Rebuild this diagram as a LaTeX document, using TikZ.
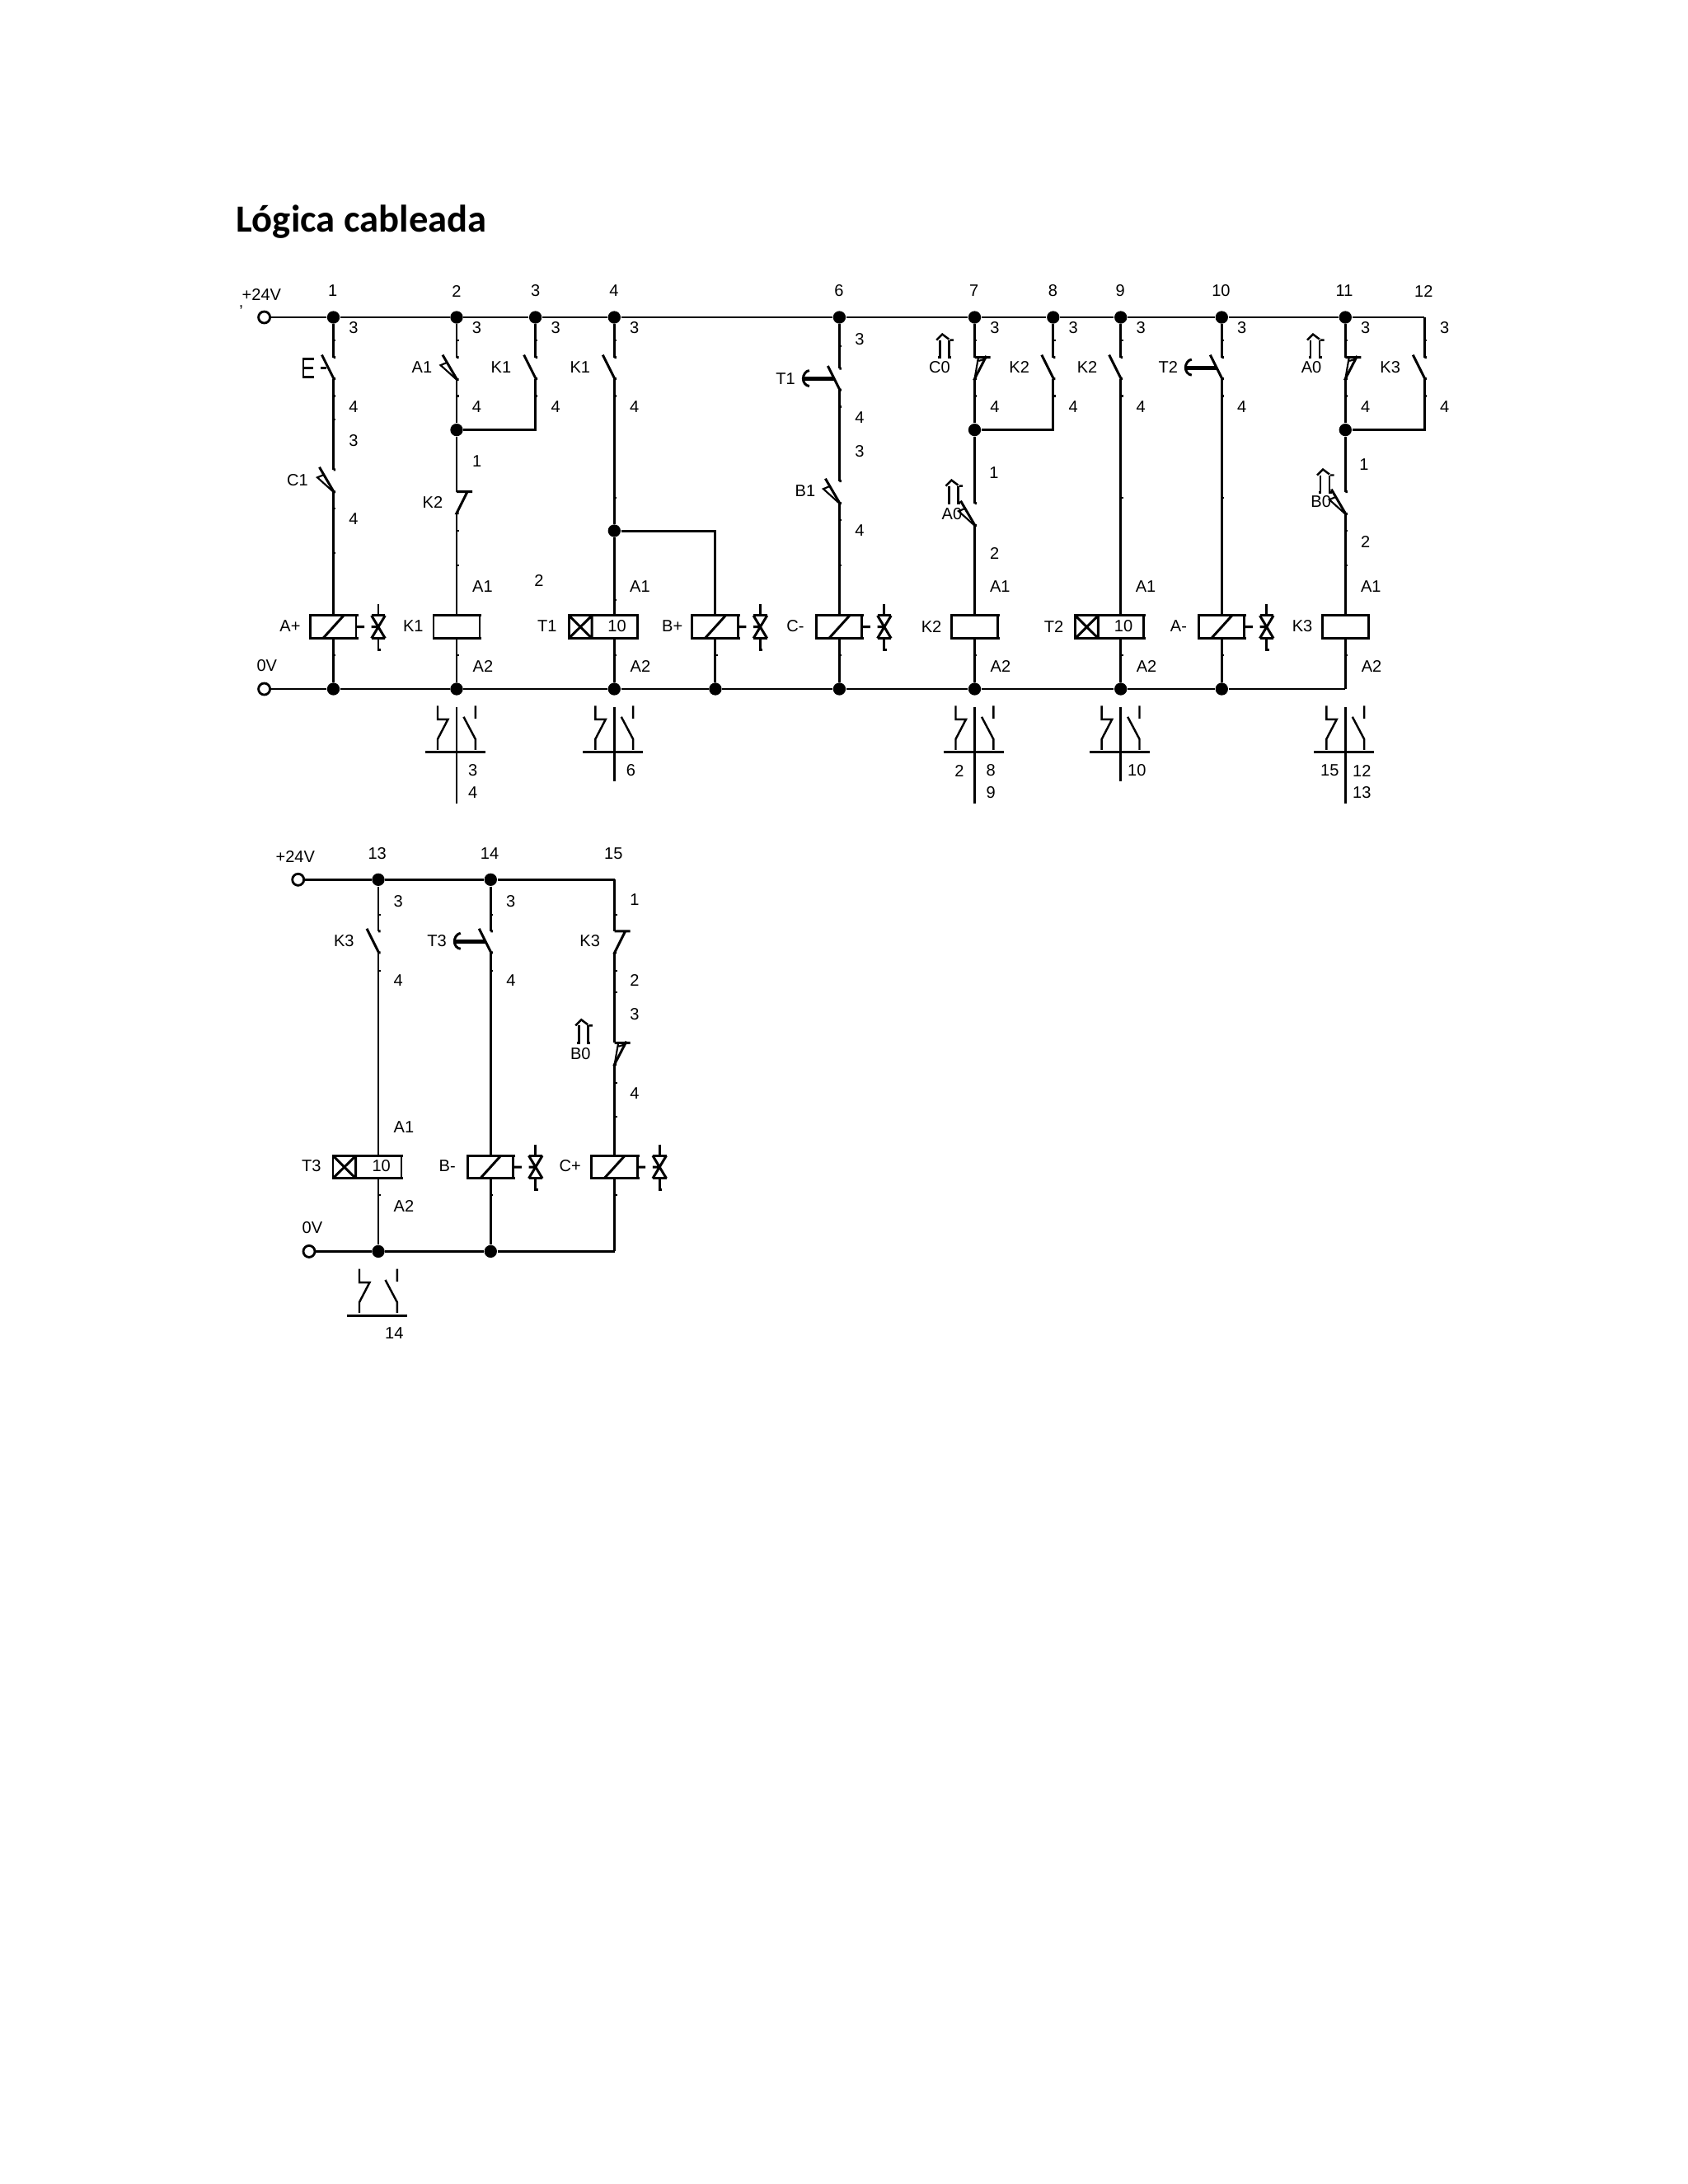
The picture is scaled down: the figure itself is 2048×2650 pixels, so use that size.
\documentclass[tikz,border=0pt]{standalone}
\usepackage{fontspec}
\setmainfont{Liberation Sans}
\newfontfamily\titlefont{Carlito}
\tikzset{
    wire/.style={line width=0.85pt},
    rail/.style={line width=0.75pt},
    dot/.style={circle,fill=black,inner sep=0pt,minimum size=0.153cm},
    term/.style={circle,draw,fill=white,line width=0.8pt,inner sep=0pt,minimum size=0.14cm},
    lbl/.style={inner sep=0pt,font=\fontsize{5.7}{6}\selectfont},
    pics/nocontact/.style={code={
        \coordinate (-a) at (0,0);
        \coordinate (-b) at (0,26);
        \draw[wire] (0,0) -- (2.5,0) (-14,-3) -- (0.5,26) -- (2.5,26);
    }},
    pics/camno/.style={code={
        \coordinate (-a) at (0,0);
        \coordinate (-b) at (0,27);
        \draw[wire] (0,0) -- (2.5,0) (-17,-3) -- (0.5,27) -- (2.5,27);
        \draw[line width=0.6pt] (-11,6) -- (-19.5,9.5) -- (0,27);
    }},
    pics/timerno/.style={code={
        \coordinate (-a) at (0,0);
        \coordinate (-b) at (0,26);
        \draw[wire] (0,0) -- (2.5,0) (-14,-3) -- (0.5,26) -- (2.5,26);
        \draw[line width=1.4pt] (-42.5,12.5) -- (-6,12.5);
        \draw[wire] (-36.5,2.5) .. controls (-41,3) and (-44,8) .. (-44,12.5) .. controls (-44,17) and (-41,21) .. (-36.5,21.5);
    }},
    pics/nccontact/.style={code={
        \coordinate (-a) at (0,0);
        \coordinate (-b) at (0,26);
        \draw[wire] (0,0) -- (19,0) (13,0) -- (0,26) -- (2.5,26);
    }},
    pics/camnc/.style={code={
        \coordinate (-a) at (0,0);
        \coordinate (-b) at (0,26);
        \draw[wire] (0,0) -- (19,0) (14.3,-1.7) -- (0,26) -- (2.5,26);
        \draw[line width=0.6pt] (4.3,1) -- (0,26) (5,4.3) -- (11.6,2.3);
    }},
    pics/camarrow/.style={code={
        \draw[line width=0.7pt] (-7.5,0) -- (-5.5,0) -- (-5.5,-21) (5.5,-21) -- (5.5,0) -- (8,0);
        \draw[line width=0.7pt] (-9.5,-21) -- (-2.5,-28) -- (5.5,-22) (6.5,-21) -- (11,-21);
    }},
    pics/solcoil/.style={code={
        \coordinate (-top) at (0,-13.8);
        \coordinate (-bot) at (0,13.8);
        \draw[wire] (30,-13.8) -- (-28,-13.8) -- (-28,13.8) -- (30,13.8) (27.5,-13.8) -- (27.5,13.8);
        \draw[wire] (-12.6,13.8) -- (12.4,-13.8) (27.5,0) -- (37.5,0);
        % valve
        \draw[wire] (54.5,-27.5) -- (54.5,-13.8) (46.2,-13.8) -- (62.8,-13.8) (46.2,13.8) -- (62.8,13.8);
        \draw[wire] (46.2,-13.8) -- (62.8,13.8) (62.8,-13.8) -- (46.2,13.8) (46.2,0) -- (54.5,0);
        \draw[wire] (54.5,13.8) -- (54.5,27.7) -- (57.5,27.7);
    }},
    pics/relaycoil/.style={code={
        \coordinate (-top) at (0,-13.8);
        \coordinate (-bot) at (0,13.8);
        \draw[wire] (30,-13.8) -- (-28,-13.8) -- (-28,13.8) -- (30,13.8) (28,-13.8) -- (28,13.8);
    }},
    pics/timercoil/.style={code={
        \coordinate (-top) at (0,-13.8);
        \coordinate (-bot) at (0,13.8);
        \draw[wire] (30,-13.8) -- (-55,-13.8) -- (-55,13.8) -- (30,13.8) (28,-13.8) -- (28,13.8);
        \draw[wire] (-27.3,-13.8) -- (-27.3,13.8) (-55,-13.8) -- (-27.3,13.8) (-27.3,-13.8) -- (-55,13.8);
    }},
    pics/auxblock/.style={code={
        \coordinate (-top) at (0,-55);
        \draw[wire] (-38,0) -- (35,0);
        \draw[line width=0.7pt] (-23,-56.4) -- (-23,-40) -- (-10.5,-40) -- (-23,-16) -- (-23,-3);
        \draw[line width=0.7pt] (8.5,-43) -- (22.8,-16) -- (22.8,-3) (22.8,-56.4) -- (22.8,-41);
    }},
}
\begin{document}
\begin{tikzpicture}[x=0.01cm,y=-0.01cm]
    \useasboundingbox (0,0) rectangle (2048,2650);
    \node[anchor=base west,inner sep=0pt,font=\titlefont\bfseries\fontsize{13.25}{15}\selectfont] (title) at (285.5,281.5) {Lógica cableada};

    % Upper rails
    \node[term] (pos) at (320.6,385) {};
    \node[term] (neg) at (320.6,836) {};
    \foreach \x/\n in {404.5/1,554/2,649.6/3,745.3/4,1018.4/6,1182.5/7,1277.8/8,1359.7/9,1482.3/10,1632.3/11}
        \node[dot] (top\n) at (\x,385) {};
    \foreach \x/\n in {404.5/1,554/2,745.3/4,867.9/5,1018.4/6,1182.5/7,1359.7/9,1482.3/10}
        \node[dot] (bot\n) at (\x,836) {};
    \coordinate (top12) at (1728.3,385);
    \coordinate (bot11) at (1632.3,836);
    \draw[rail] (pos) -- (top1) -- (top2) -- (top3) -- (top4) -- (top6) -- (top7) -- (top8) -- (top9) -- (top10) -- (top11) -- (top12);
    \draw[rail] (neg) -- (bot1) -- (bot2) -- (bot4) -- (bot5) -- (bot6) -- (bot7) -- (bot9) -- (bot10) -- (bot11);

    % Cylinder A advance
    \pic (e1) at (404.5,433.6) {nocontact};
    \pic (c1) at (404.5,569.8) {camno};
    \pic (ap) at (404.5,760.7) {solcoil};
    \draw[wire] (top1) -- (e1-a) (e1-b) -- (c1-a) (c1-b) -- (ap-top) (ap-bot) -- (bot1);
    \draw[wire] (380.7,435) -- (368,435) -- (368,457.3) -- (380.7,457.3) (368,446) -- (380,446) (389.3,446.7) -- (396,446.7);

    % K1
    \node[dot] (jn2) at (554,521.6) {};
    \pic (a1) at (554,433.6) {camno};
    \pic (k1s) at (649.6,433.6) {nocontact};
    \pic (k2n) at (554,596.7) {nccontact};
    \pic (k1c) at (554,760.7) {relaycoil};
    \draw[wire] (top2) -- (a1-a) (a1-b) -- (jn2) -- (k2n-a) (k2n-b) -- (k1c-top) (k1c-bot) -- (bot2);
    \draw[wire] (top3) -- (k1s-a) (k1s-b) |- (jn2);

    % T1 and B+
    \node[dot] (jn4) at (745.3,644) {};
    \pic (k1t) at (745.3,433.6) {nocontact};
    \pic (t1c) at (745.3,760.7) {timercoil};
    \pic (bp) at (867.9,760.7) {solcoil};
    \draw[wire] (top4) -- (k1t-a) (k1t-b) -- (jn4) -- (t1c-top) (t1c-bot) -- (bot4);
    \draw[wire] (jn4) -| (bp-top) (bp-bot) -- (bot5);

    % C-
    \pic (t1s) at (1018.4,447) {timerno};
    \pic (b1) at (1018.4,583.7) {camno};
    \pic (cm) at (1018.4,760.7) {solcoil};
    \draw[wire] (top6) -- (t1s-a) (t1s-b) -- (b1-a) (b1-b) -- (cm-top) (cm-bot) -- (bot6);

    % K2
    \node[dot] (jn7) at (1182.5,521.6) {};
    \pic (c0) at (1182.5,433.6) {camnc};
    \pic (c0a) at (1145.8,433.6) {camarrow};
    \pic (k2s) at (1277.8,433.6) {nocontact};
    \pic (a0) at (1182.5,610.7) {camno};
    \pic (a0a) at (1157,610.7) {camarrow};
    \pic (k2c) at (1182.5,760.7) {relaycoil};
    \draw[wire] (top7) -- (c0-a) (c0-b) -- (jn7) -- (a0-a) (a0-b) -- (k2c-top) (k2c-bot) -- (bot7);
    \draw[wire] (top8) -- (k2s-a) (k2s-b) |- (jn7);

    % T2 and A-
    \pic (k2t) at (1359.7,433.6) {nocontact};
    \pic (t2c) at (1359.7,760.7) {timercoil};
    \pic (t2s) at (1482.3,433.6) {timerno};
    \pic (am) at (1482.3,760.7) {solcoil};
    \draw[wire] (top9) -- (k2t-a) (k2t-b) -- (t2c-top) (t2c-bot) -- (bot9);
    \draw[wire] (top10) -- (t2s-a) (t2s-b) -- (am-top) (am-bot) -- (bot10);

    % K3
    \node[dot] (jn11) at (1632.3,521.6) {};
    \pic (a0n) at (1632.3,433.6) {camnc};
    \pic (a0b) at (1595.5,433.6) {camarrow};
    \pic (k3s) at (1728.3,433.6) {nocontact};
    \pic (b0) at (1632.3,596.7) {camno};
    \pic (b0a) at (1607.5,597.5) {camarrow};
    \pic (k3c) at (1632.3,760.7) {relaycoil};
    \draw[wire] (top11) -- (a0n-a) (a0n-b) -- (jn11) -- (b0-a) (b0-b) -- (k3c-top) (k3c-bot) -- (bot11);
    \draw[wire] (top12) -- (k3s-a) (k3s-b) |- (jn11);

    % Contact blocks
    \foreach \x/\n/\yend in {554/2/975,745.3/4/947.5,1182.5/7/975,1359.7/9/947.5,1632.3/11/975} {
        \pic (ax\n) at (\x,912.8) {auxblock};
        \coordinate (axe\n) at (\x,\yend);
        \draw[wire] (ax\n-top) -- (axe\n);
    }

    % Lower circuit
    \node[term] (pos2) at (361.7,1067.3) {};
    \node[term] (neg2) at (375,1518.4) {};
    \node[dot] (top13) at (459,1067.3) {};
    \node[dot] (top14) at (595.3,1067.3) {};
    \node[dot] (bot13) at (459,1518.4) {};
    \node[dot] (bot14) at (595.3,1518.4) {};
    \coordinate (top15) at (745.7,1067.3);
    \coordinate (bot15) at (745.7,1518.4);
    \draw[rail] (pos2) -- (top13) -- (top14) -- (top15);
    \draw[rail] (neg2) -- (bot13) -- (bot14) -- (bot15);
    \pic (k3l) at (459,1129.8) {nocontact};
    \pic (t3c) at (459,1416) {timercoil};
    \pic (t3s) at (595.3,1129.8) {timerno};
    \pic (bm) at (595.3,1416) {solcoil};
    \pic (k3n) at (745.7,1129.8) {nccontact};
    \pic (b0l) at (745.7,1265.3) {camnc};
    \pic (b0m) at (707.8,1265.3) {camarrow};
    \pic (cp) at (745.7,1416) {solcoil};
    \pic (ax13) at (459,1596) {auxblock};
    \draw[wire] (top13) -- (k3l-a) (k3l-b) -- (t3c-top) (t3c-bot) -- (bot13);
    \draw[wire] (top14) -- (t3s-a) (t3s-b) -- (bm-top) (bm-bot) -- (bot14);
    \draw[wire] (top15) -- (k3n-a) (k3n-b) -- (b0l-a) (b0l-b) -- (cp-top) (cp-bot) -- (bot15);

    % Small marks on the wires
    \foreach \x/\ys in {404.5/{413,480.5,508.6,617,671,795},554/{413,480.5,644,686,795},649.6/{413,480.5},745.3/{413,480.5,604,727.6,795},867.9/{795},1018.4/{420,493.5,631,686,795},1182.5/{413,480.5,795},1277.8/{413,480.5},1359.7/{413,480.5,604,795},1482.3/{413,480.5,604,795},1632.3/{413,480.5,644,686,795},1728.3/{413,480.5},459/{1110,1177.6,1450},595.3/{1110,1177.6,1450},745.7/{1110,1177.6,1204,1314,1355,1450}}
        \foreach \y in \ys
            \draw[line width=0.6pt] (\x,\y) -- ++(2.8,0);

    % Terminal numbers
    \foreach \x/\y/\t [count=\i] in {403.6/353/1,553.9/353/2,649.6/353/3,744.9/353/4,1018/353/6,1181.7/353/7,1277.4/353/8,1359.2/353/9,1481.4/353/10,1631/353/11,1727.3/353/12,457.7/1035.5/13,594/1035.5/14,744.3/1035.5/15}
        \node[lbl] (num\i) at (\x,\y) {\t};
    \foreach \x [count=\i] in {404.5,554,649.6,745.3,1182.5,1277.8,1359.7,1482.3,1632.3,1728.3} {
        \node[lbl] (three\i) at (\x+24.5,398) {3};
        \node[lbl] (four\i) at (\x+24.5,493.5) {4};
    }
    \foreach \x/\y/\t [count=\i] in {
        317.4/357/+24V,292.5/378/',323.8/808/0V,429/534.7/3,361/582.4/C1,429/630/4,352/760/A+,
        512/445.8/A1,578.8/559.4/1,525/609/K2,585.5/712/A1,501.3/760/K1,586/808/A2,
        608/445.8/K1,654/704.6/2,703.8/445.8/K1,776.5/712/A1,663.8/760/T1,748.5/760/10,777/808/A2,815.7/760/B+,
        1043/412/3,953/459.6/T1,1043/507/4,1043/547.7/3,977/596/B1,1043/644/4,965/760/C-,
        1140/445.8/C0,1236.7/445.8/K2,1206/573.7/1,1155/623.3/A0,1206.7/671/2,1213.3/712/A1,1130/760/K2,1214/808/A2,
        1319/445.8/K2,1390/712/A1,1278.6/760/T2,1363/760/10,1391/808/A2,1417.3/445.8/T2,1430/760/A-,
        1591/445.8/A0,1686.7/445.8/K3,1655/564/1,1602.7/609/B0,1656.7/657.4/2,1663.3/712/A1,1580/760/K3,1664/808/A2,
        573.7/935/3,573.7/962/4,765.5/935/6,1164/935/2,1202.3/935/8,1202.3/962/9,1379.3/935/10,1613.3/935/15,1652.3/935/12,1652.3/962/13,
        358.3/1039.6/+24V,379/1489.8/0V,483.3/1093.9/3,619.7/1093.9/3,770/1091.8/1,417.3/1141.6/K3,530/1141.6/T3,715.7/1141.6/K3,
        483.3/1189.8/4,620/1189.8/4,770/1189.8/2,770/1230.6/3,704.3/1278.4/B0,770/1326.5/4,490/1367.3/A1,
        377.7/1415/T3,462.7/1415/10,542.7/1415/B-,691.7/1415/C+,490/1463/A2,478.3/1617.6/14}
        \node[lbl] (txt\i) at (\x,\y) {\t};
\end{tikzpicture}
\end{document}
